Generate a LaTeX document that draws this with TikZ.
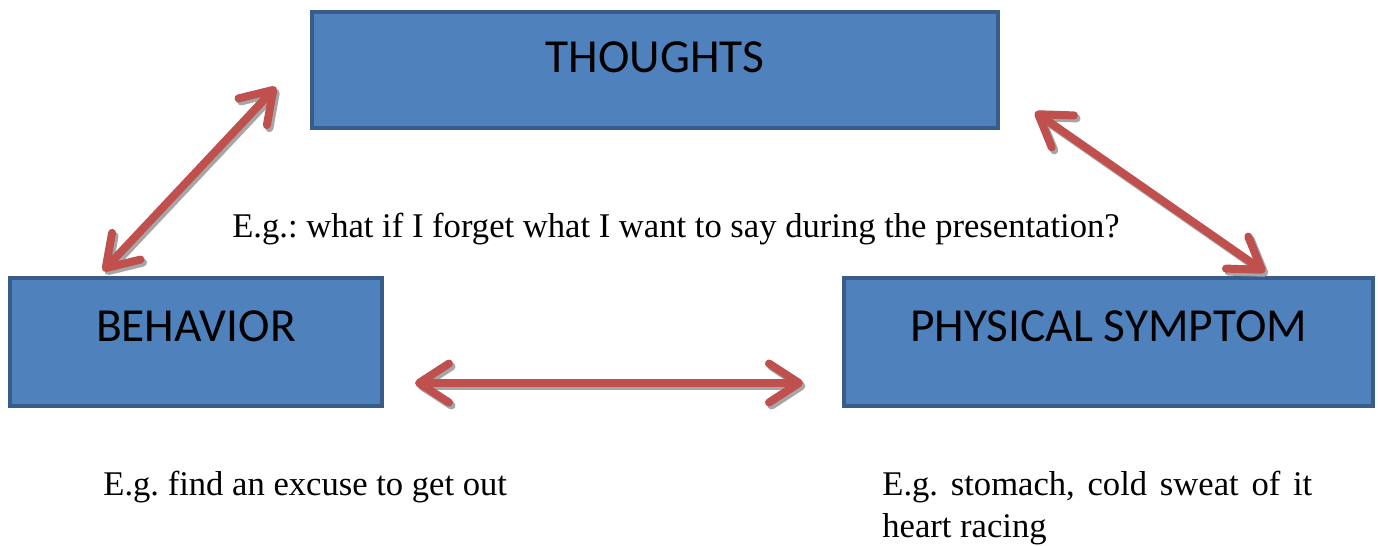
\documentclass[tikz,border=0pt]{standalone}
\usepackage{fontspec}
\setmainfont{Liberation Serif}
\newfontfamily\boxfont{Carlito}
\usetikzlibrary{arrows.meta}
\definecolor{boxfill}{HTML}{4F81BD}
\definecolor{boxline}{HTML}{385D8A}
\definecolor{arrowred}{HTML}{C0504D}
\definecolor{arrowshade}{HTML}{A6A6A6}
\frenchspacing
\begin{document}
\begin{tikzpicture}[x=0.02cm,y=-0.02cm,
	box/.style={draw=boxline,fill=boxfill,line width=0.08cm,font=\boxfont\fontsize{27}{32}\selectfont,text height=0.62cm,anchor=center},
	link/.style={line width=0.16cm,{Straight Barb[round,length=0.6cm,width=0.78cm]}-{Straight Barb[round,length=0.6cm,width=0.78cm]}},
	redlink/.style={link,draw=arrowred},
	shadelink/.style={link,draw=arrowshade,transform canvas={xshift=0.05cm,yshift=-0.06cm}},
	example/.style={font=\fontsize{19.7}{23.8}\selectfont,inner sep=0pt}]
				\useasboundingbox (0,0) rectangle (1378,545);
				% Boxes
				\node[box,minimum width=13.72cm,minimum height=2.32cm,text depth=0.54cm] (thoughts) at (655,70) {THOUGHTS};
				\node[box,minimum width=7.44cm,minimum height=2.56cm,text depth=0.66cm] (behavior) at (196,342) {BEHAVIOR};
				\node[box,minimum width=10.58cm,minimum height=2.56cm,text depth=0.66cm] (symptom) at (1108.5,342) {PHYSICAL SYMPTOM};
				% Arrow ends
				\coordinate []  (bt1) at (103,271)  ;
				\coordinate []  (bt2) at (276,87) ;
				\coordinate []  (ts1) at (1035,112)  ;
				\coordinate []  (ts2) at (1265,272) ;
				\coordinate []  (bs1) at (415,383)  ;
				\coordinate []  (bs2) at (803,383) ;
				\path (bt1) edge[shadelink] (bt2) edge[redlink] (bt2);
				\path (ts1) edge[shadelink] (ts2) edge[redlink] (ts2);
				\path (bs1) edge[shadelink] (bs2) edge[redlink] (bs2);
				% Examples
				\node[example,anchor=base] (question) at (676,237) {E.g.: what if I forget what I want to say during the presentation?};
				\node[example,anchor=base west] (doing) at (103,495) {E.g. find an excuse to get out};
				\node[example,anchor=base west,align=left] (feeling) at (882,537) {\makebox[8.6cm][s]{E.g. stomach, cold sweat of it}\\heart racing};
\end{tikzpicture}
\end{document}
